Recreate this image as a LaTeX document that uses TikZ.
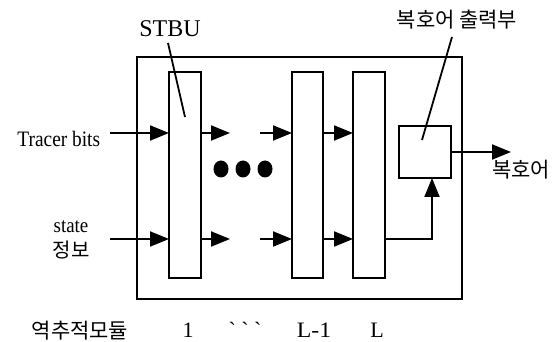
\documentclass[tikz,border=0pt]{standalone}
\usepackage{fontspec}
\setmainfont{Liberation Serif}
\newfontfamily\rawserif{Liberation Serif}
\newfontfamily\kr{Noto Sans CJK KR}
\usetikzlibrary{arrows.meta,shapes.geometric}
\begin{document}
\begin{tikzpicture}[x=1pt,y=-1pt, line width=2pt,
 box/.style={draw, inner sep=0pt, outer sep=0pt, line width=2pt},
 arr/.style={-{Triangle[length=19pt,width=15pt]}, line width=2pt},
 lead/.style={line width=1.8pt},
 lbl/.style={inner sep=0pt, font=\fontsize{22}{24}\selectfont},
 krl/.style={inner sep=0pt, font=\kr\fontsize{21}{23}\selectfont},
 dot/.style={fill=black, draw=none, ellipse, inner sep=0pt, minimum width=15pt, minimum height=17pt}]
\useasboundingbox (0,0) rectangle (552,342);
% boxes
\node[box, minimum width=325pt, minimum height=242pt] (outer) at (299.5,178) {};
\node[box, minimum width=32pt, minimum height=206pt] (m1) at (185,175) {};
\node[box, minimum width=31pt, minimum height=206pt] (mL1) at (307.5,175) {};
\node[box, minimum width=32pt, minimum height=206pt] (mL) at (369,175) {};
\node[box, minimum width=52pt, minimum height=52pt] (out) at (425,152) {};
% coordinates
\coordinate (tin) at (110,133);
\coordinate (sin) at (110,239);
\coordinate (t1e) at (230,133);
\coordinate (s1e) at (230,239);
\coordinate (t2s) at (260,133);
\coordinate (s2s) at (260,239);
\coordinate (corner) at (432,239);
\coordinate (oute) at (511,152);
% upper row
\draw[arr] (tin) -- (tin -| m1.west);
\draw[arr] (t1e -| m1.east) -- (t1e);
\draw[arr] (t2s) -- (t2s -| mL1.west);
\draw[arr] (t2s -| mL1.east) -- (t2s -| mL.west);
% lower row
\draw[arr] (sin) -- (sin -| m1.west);
\draw[arr] (s1e -| m1.east) -- (s1e);
\draw[arr] (s2s) -- (s2s -| mL1.west);
\draw[arr] (s2s -| mL1.east) -- (s2s -| mL.west);
\draw[arr] (s2s -| mL.east) -- (corner) -- (corner |- out.south);
% output
\draw[arr] (out.east) -- (oute);
% dots
\node[dot] (d1) at (221,169) {};
\node[dot] (d2) at (243,169) {};
\node[dot] (d3) at (265,169) {};
% labels
\node[lbl, xscale=0.88, anchor=base east] (tr) at (101,147) {Tracer bits};
\node[lbl, font=\fontsize{21}{23}\selectfont, xscale=0.9, anchor=base] (st) at (71,233) {state};
\node[krl, font=\kr\fontsize{20}{22}\selectfont, anchor=base] (jb) at (71,257) {정보};
\node[inner sep=0pt, font=\fontsize{24}{26}\selectfont, anchor=base] (stbu) at (170,37) {STBU};
\node[krl, anchor=base] (outl) at (457,28) {복호어 출력부};
\node[krl, anchor=base west] (bho) at (491,178) {복호어};
\coordinate (sl1) at (168,43);
\coordinate (sl2) at (185,117);
\draw[lead] (sl1) -- (sl2);
\coordinate (ol1) at (452,37);
\coordinate (ol2) at (422,140);
\draw[lead] (ol1) -- (ol2);
% bottom labels
\node[krl, anchor=base] (mod) at (80,338) {역추적모듈};
\node[lbl, anchor=base] (n1) at (188,337) {1};
\node[lbl, font=\rawserif\fontsize{22}{24}\selectfont, anchor=base] (bt) at (245,337) {\char"60\ \char"60\ \char"60};
\node[lbl, xscale=1.08, anchor=base] (nL1) at (314,337) {L-1};
\node[lbl, anchor=base] (nL) at (377,337) {L};
\end{tikzpicture}
\end{document}
